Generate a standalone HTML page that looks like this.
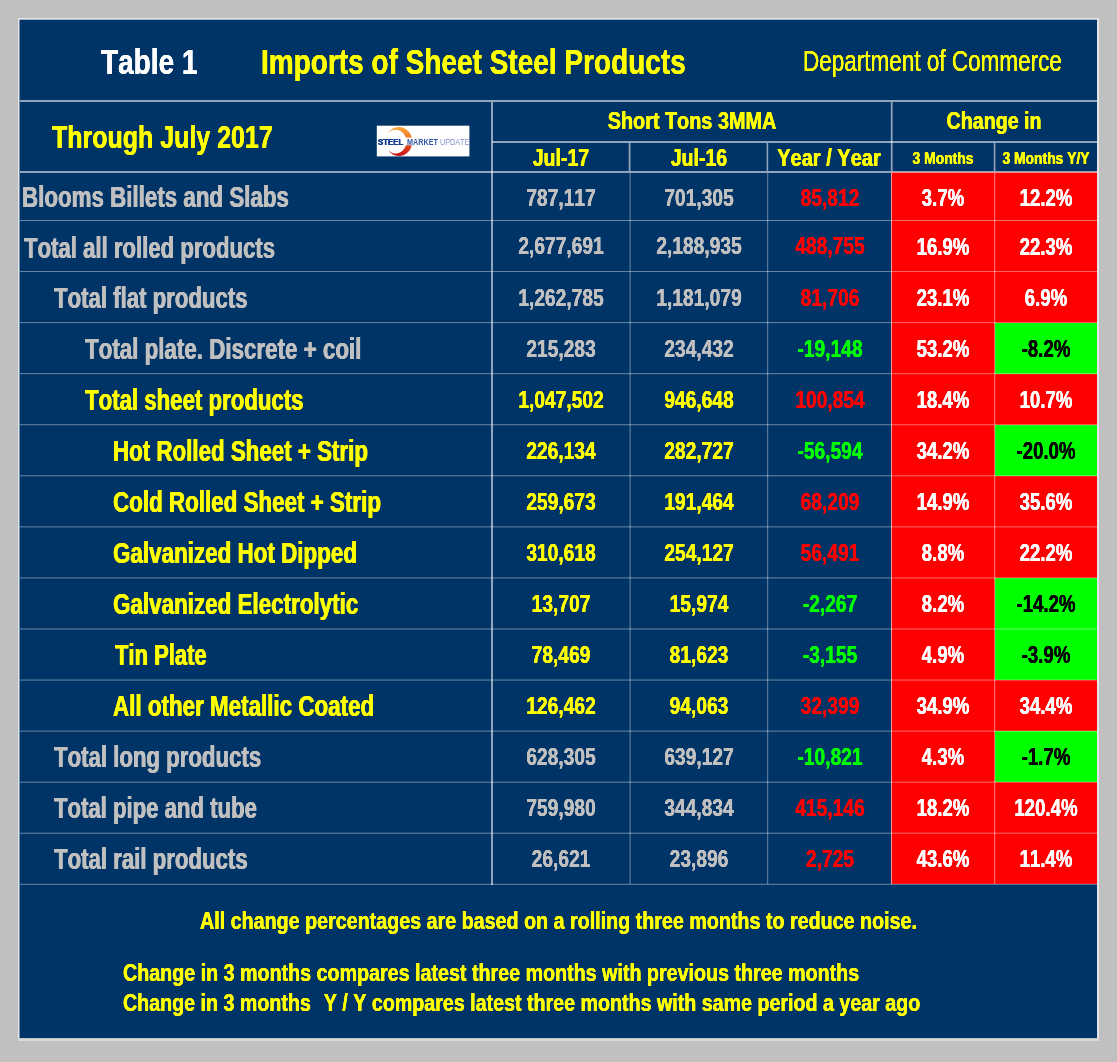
<!DOCTYPE html>
<html lang="en"><head><meta charset="utf-8"><title>Table 1 - Imports of Sheet Steel Products</title>
<style>
html,body{margin:0;padding:0}
body{width:1117px;height:1062px;background:#c0c0c0;position:relative;overflow:hidden;font-family:"Liberation Sans",sans-serif;font-weight:bold}
.bg{position:absolute}
.t{position:absolute;white-space:pre;line-height:1;font-kerning:none;transform:scaleX(0.82);text-shadow:0.45px 0 0 currentColor,-0.45px 0 0 currentColor}
.l{transform-origin:0 0}
.c{transform-origin:50% 0;text-align:center}
svg{position:absolute;left:0;top:0}
</style></head><body>
<svg width="1117" height="1062" viewBox="0 0 1117 1062"><rect x="18" y="18" width="1081" height="1022.6" fill="#e4e5e8"/><rect x="18" y="1038" width="1081" height="2.6" fill="#d9d9d9"/><rect x="19.5" y="19.7" width="1077.5" height="1018.4" fill="#003366"/></svg>
<div class="bg" style="left:891px;top:172px;width:206px;height:712px;background:#ff0000"></div>
<div class="bg" style="left:995px;top:323px;width:102px;height:51px;background:#00ff00"></div>
<div class="bg" style="left:995px;top:425px;width:102px;height:51px;background:#00ff00"></div>
<div class="bg" style="left:995px;top:578px;width:102px;height:51px;background:#00ff00"></div>
<div class="bg" style="left:995px;top:629px;width:102px;height:51px;background:#00ff00"></div>
<div class="bg" style="left:995px;top:731px;width:102px;height:51px;background:#00ff00"></div>
<div class="t l" style="left:100.70px;top:44.27px;font-size:35px;color:#ffffff;transform:scaleX(0.8);text-shadow:0.2px 0 0 currentColor,-0.2px 0 0 currentColor;">Table 1</div>
<div class="t l" style="left:261.30px;top:44.27px;font-size:35px;color:#ffff00;transform:scaleX(0.8);text-shadow:0.2px 0 0 currentColor,-0.2px 0 0 currentColor;">Imports of Sheet Steel Products</div>
<div class="t l" style="left:802.80px;top:46.78px;font-size:29.2px;color:#ffff00;font-weight:normal;transform:scaleX(0.771);text-shadow:0.1px 0 0 currentColor,-0.1px 0 0 currentColor;">Department of Commerce</div>
<div class="t l" style="left:51.70px;top:122.48px;font-size:30.5px;color:#ffff00;transform:scaleX(0.819);text-shadow:0.2px 0 0 currentColor,-0.2px 0 0 currentColor;">Through July 2017</div>
<div class="t c" style="left:391.50px;width:600px;top:110.31px;font-size:23.5px;color:#ffff00;transform:scaleX(0.844);text-shadow:0.3px 0 0 currentColor,-0.3px 0 0 currentColor;">Short Tons 3MMA</div>
<div class="t c" style="left:694.00px;width:600px;top:110.01px;font-size:23.5px;color:#ffff00;transform:scaleX(0.836);text-shadow:0.3px 0 0 currentColor,-0.3px 0 0 currentColor;">Change in</div>
<div class="t c" style="left:260.70px;width:600px;top:146.71px;font-size:23.5px;color:#ffff00;transform:scaleX(0.832);text-shadow:0.3px 0 0 currentColor,-0.3px 0 0 currentColor;">Jul-17</div>
<div class="t c" style="left:398.75px;width:600px;top:146.71px;font-size:23.5px;color:#ffff00;transform:scaleX(0.832);text-shadow:0.3px 0 0 currentColor,-0.3px 0 0 currentColor;">Jul-16</div>
<div class="t c" style="left:528.70px;width:600px;top:146.71px;font-size:23.5px;color:#ffff00;transform:scaleX(0.852);text-shadow:0.3px 0 0 currentColor,-0.3px 0 0 currentColor;">Year / Year</div>
<div class="t c" style="left:643.00px;width:600px;top:149.51px;font-size:17px;color:#ffff00;transform:scaleX(0.816);text-shadow:0.3px 0 0 currentColor,-0.3px 0 0 currentColor;">3 Months</div>
<div class="t c" style="left:746.20px;width:600px;top:149.51px;font-size:17px;color:#ffff00;transform:scaleX(0.816);text-shadow:0.3px 0 0 currentColor,-0.3px 0 0 currentColor;">3 Months Y/Y</div>
<div class="t l" style="left:22.40px;top:182.72px;font-size:28.8px;color:#c0c0c0;transform:scaleX(0.7757);">Blooms Billets and Slabs</div>
<div class="t c" style="left:260.70px;width:600px;top:185.76px;font-size:24.5px;color:#c0c0c0;transform:scaleX(0.784);text-shadow:0.15px 0 0 currentColor,-0.15px 0 0 currentColor;">787,117</div>
<div class="t c" style="left:398.75px;width:600px;top:185.76px;font-size:24.5px;color:#c0c0c0;transform:scaleX(0.784);text-shadow:0.15px 0 0 currentColor,-0.15px 0 0 currentColor;">701,305</div>
<div class="t c" style="left:529.50px;width:600px;top:185.76px;font-size:24.5px;color:#ff0000;transform:scaleX(0.784);text-shadow:0.15px 0 0 currentColor,-0.15px 0 0 currentColor;">85,812</div>
<div class="t c" style="left:643.00px;width:600px;top:187.03px;font-size:23px;color:#ffffff;transform:scaleX(0.811);text-shadow:0.15px 0 0 currentColor,-0.15px 0 0 currentColor;">3.7%</div>
<div class="t c" style="left:746.00px;width:600px;top:187.03px;font-size:23px;color:#ffffff;transform:scaleX(0.811);text-shadow:0.15px 0 0 currentColor,-0.15px 0 0 currentColor;">12.2%</div>
<div class="t l" style="left:24.10px;top:233.55px;font-size:28.8px;color:#c0c0c0;transform:scaleX(0.7692);">Total all rolled products</div>
<div class="t c" style="left:260.70px;width:600px;top:234.46px;font-size:24.5px;color:#c0c0c0;transform:scaleX(0.784);text-shadow:0.15px 0 0 currentColor,-0.15px 0 0 currentColor;">2,677,691</div>
<div class="t c" style="left:398.75px;width:600px;top:234.46px;font-size:24.5px;color:#c0c0c0;transform:scaleX(0.784);text-shadow:0.15px 0 0 currentColor,-0.15px 0 0 currentColor;">2,188,935</div>
<div class="t c" style="left:529.50px;width:600px;top:234.46px;font-size:24.5px;color:#ff0000;transform:scaleX(0.784);text-shadow:0.15px 0 0 currentColor,-0.15px 0 0 currentColor;">488,755</div>
<div class="t c" style="left:643.00px;width:600px;top:235.63px;font-size:23px;color:#ffffff;transform:scaleX(0.811);text-shadow:0.15px 0 0 currentColor,-0.15px 0 0 currentColor;">16.9%</div>
<div class="t c" style="left:746.00px;width:600px;top:235.63px;font-size:23px;color:#ffffff;transform:scaleX(0.811);text-shadow:0.15px 0 0 currentColor,-0.15px 0 0 currentColor;">22.3%</div>
<div class="t l" style="left:54.00px;top:284.39px;font-size:28.8px;color:#c0c0c0;transform:scaleX(0.7707);">Total flat products</div>
<div class="t c" style="left:260.70px;width:600px;top:285.52px;font-size:24.5px;color:#c0c0c0;transform:scaleX(0.784);text-shadow:0.15px 0 0 currentColor,-0.15px 0 0 currentColor;">1,262,785</div>
<div class="t c" style="left:398.75px;width:600px;top:285.52px;font-size:24.5px;color:#c0c0c0;transform:scaleX(0.784);text-shadow:0.15px 0 0 currentColor,-0.15px 0 0 currentColor;">1,181,079</div>
<div class="t c" style="left:529.50px;width:600px;top:285.52px;font-size:24.5px;color:#ff0000;transform:scaleX(0.784);text-shadow:0.15px 0 0 currentColor,-0.15px 0 0 currentColor;">81,706</div>
<div class="t c" style="left:643.00px;width:600px;top:286.69px;font-size:23px;color:#ffffff;transform:scaleX(0.811);text-shadow:0.15px 0 0 currentColor,-0.15px 0 0 currentColor;">23.1%</div>
<div class="t c" style="left:746.00px;width:600px;top:286.69px;font-size:23px;color:#ffffff;transform:scaleX(0.811);text-shadow:0.15px 0 0 currentColor,-0.15px 0 0 currentColor;">6.9%</div>
<div class="t l" style="left:85.20px;top:335.22px;font-size:28.8px;color:#c0c0c0;transform:scaleX(0.7762);">Total plate. Discrete + coil</div>
<div class="t c" style="left:260.70px;width:600px;top:336.58px;font-size:24.5px;color:#c0c0c0;transform:scaleX(0.784);text-shadow:0.15px 0 0 currentColor,-0.15px 0 0 currentColor;">215,283</div>
<div class="t c" style="left:398.75px;width:600px;top:336.58px;font-size:24.5px;color:#c0c0c0;transform:scaleX(0.784);text-shadow:0.15px 0 0 currentColor,-0.15px 0 0 currentColor;">234,432</div>
<div class="t c" style="left:529.50px;width:600px;top:336.58px;font-size:24.5px;color:#00ff00;transform:scaleX(0.784);text-shadow:0.15px 0 0 currentColor,-0.15px 0 0 currentColor;">-19,148</div>
<div class="t c" style="left:643.00px;width:600px;top:337.75px;font-size:23px;color:#ffffff;transform:scaleX(0.811);text-shadow:0.15px 0 0 currentColor,-0.15px 0 0 currentColor;">53.2%</div>
<div class="t c" style="left:746.00px;width:600px;top:337.75px;font-size:23px;color:#000000;transform:scaleX(0.811);text-shadow:0.15px 0 0 currentColor,-0.15px 0 0 currentColor;">-8.2%</div>
<div class="t l" style="left:85.20px;top:386.05px;font-size:28.8px;color:#ffff00;transform:scaleX(0.7718);">Total sheet products</div>
<div class="t c" style="left:260.70px;width:600px;top:387.64px;font-size:24.5px;color:#ffff00;transform:scaleX(0.784);text-shadow:0.15px 0 0 currentColor,-0.15px 0 0 currentColor;">1,047,502</div>
<div class="t c" style="left:398.75px;width:600px;top:387.64px;font-size:24.5px;color:#ffff00;transform:scaleX(0.784);text-shadow:0.15px 0 0 currentColor,-0.15px 0 0 currentColor;">946,648</div>
<div class="t c" style="left:529.50px;width:600px;top:387.64px;font-size:24.5px;color:#ff0000;transform:scaleX(0.784);text-shadow:0.15px 0 0 currentColor,-0.15px 0 0 currentColor;">100,854</div>
<div class="t c" style="left:643.00px;width:600px;top:388.81px;font-size:23px;color:#ffffff;transform:scaleX(0.811);text-shadow:0.15px 0 0 currentColor,-0.15px 0 0 currentColor;">18.4%</div>
<div class="t c" style="left:746.00px;width:600px;top:388.81px;font-size:23px;color:#ffffff;transform:scaleX(0.811);text-shadow:0.15px 0 0 currentColor,-0.15px 0 0 currentColor;">10.7%</div>
<div class="t l" style="left:113.40px;top:436.89px;font-size:28.8px;color:#ffff00;transform:scaleX(0.7753);">Hot Rolled Sheet + Strip</div>
<div class="t c" style="left:260.70px;width:600px;top:438.70px;font-size:24.5px;color:#ffff00;transform:scaleX(0.784);text-shadow:0.15px 0 0 currentColor,-0.15px 0 0 currentColor;">226,134</div>
<div class="t c" style="left:398.75px;width:600px;top:438.70px;font-size:24.5px;color:#ffff00;transform:scaleX(0.784);text-shadow:0.15px 0 0 currentColor,-0.15px 0 0 currentColor;">282,727</div>
<div class="t c" style="left:529.50px;width:600px;top:438.70px;font-size:24.5px;color:#00ff00;transform:scaleX(0.784);text-shadow:0.15px 0 0 currentColor,-0.15px 0 0 currentColor;">-56,594</div>
<div class="t c" style="left:643.00px;width:600px;top:439.87px;font-size:23px;color:#ffffff;transform:scaleX(0.811);text-shadow:0.15px 0 0 currentColor,-0.15px 0 0 currentColor;">34.2%</div>
<div class="t c" style="left:746.00px;width:600px;top:439.87px;font-size:23px;color:#000000;transform:scaleX(0.811);text-shadow:0.15px 0 0 currentColor,-0.15px 0 0 currentColor;">-20.0%</div>
<div class="t l" style="left:113.20px;top:487.72px;font-size:28.8px;color:#ffff00;transform:scaleX(0.7771);">Cold Rolled Sheet + Strip</div>
<div class="t c" style="left:260.70px;width:600px;top:489.76px;font-size:24.5px;color:#ffff00;transform:scaleX(0.784);text-shadow:0.15px 0 0 currentColor,-0.15px 0 0 currentColor;">259,673</div>
<div class="t c" style="left:398.75px;width:600px;top:489.76px;font-size:24.5px;color:#ffff00;transform:scaleX(0.784);text-shadow:0.15px 0 0 currentColor,-0.15px 0 0 currentColor;">191,464</div>
<div class="t c" style="left:529.50px;width:600px;top:489.76px;font-size:24.5px;color:#ff0000;transform:scaleX(0.784);text-shadow:0.15px 0 0 currentColor,-0.15px 0 0 currentColor;">68,209</div>
<div class="t c" style="left:643.00px;width:600px;top:490.93px;font-size:23px;color:#ffffff;transform:scaleX(0.811);text-shadow:0.15px 0 0 currentColor,-0.15px 0 0 currentColor;">14.9%</div>
<div class="t c" style="left:746.00px;width:600px;top:490.93px;font-size:23px;color:#ffffff;transform:scaleX(0.811);text-shadow:0.15px 0 0 currentColor,-0.15px 0 0 currentColor;">35.6%</div>
<div class="t l" style="left:113.20px;top:538.72px;font-size:28.8px;color:#ffff00;transform:scaleX(0.778);">Galvanized Hot Dipped</div>
<div class="t c" style="left:260.70px;width:600px;top:540.82px;font-size:24.5px;color:#ffff00;transform:scaleX(0.784);text-shadow:0.15px 0 0 currentColor,-0.15px 0 0 currentColor;">310,618</div>
<div class="t c" style="left:398.75px;width:600px;top:540.82px;font-size:24.5px;color:#ffff00;transform:scaleX(0.784);text-shadow:0.15px 0 0 currentColor,-0.15px 0 0 currentColor;">254,127</div>
<div class="t c" style="left:529.50px;width:600px;top:540.82px;font-size:24.5px;color:#ff0000;transform:scaleX(0.784);text-shadow:0.15px 0 0 currentColor,-0.15px 0 0 currentColor;">56,491</div>
<div class="t c" style="left:643.00px;width:600px;top:541.99px;font-size:23px;color:#ffffff;transform:scaleX(0.811);text-shadow:0.15px 0 0 currentColor,-0.15px 0 0 currentColor;">8.8%</div>
<div class="t c" style="left:746.00px;width:600px;top:541.99px;font-size:23px;color:#ffffff;transform:scaleX(0.811);text-shadow:0.15px 0 0 currentColor,-0.15px 0 0 currentColor;">22.2%</div>
<div class="t l" style="left:113.20px;top:589.72px;font-size:28.8px;color:#ffff00;transform:scaleX(0.778);">Galvanized Electrolytic</div>
<div class="t c" style="left:260.70px;width:600px;top:591.88px;font-size:24.5px;color:#ffff00;transform:scaleX(0.784);text-shadow:0.15px 0 0 currentColor,-0.15px 0 0 currentColor;">13,707</div>
<div class="t c" style="left:398.75px;width:600px;top:591.88px;font-size:24.5px;color:#ffff00;transform:scaleX(0.784);text-shadow:0.15px 0 0 currentColor,-0.15px 0 0 currentColor;">15,974</div>
<div class="t c" style="left:529.50px;width:600px;top:591.88px;font-size:24.5px;color:#00ff00;transform:scaleX(0.784);text-shadow:0.15px 0 0 currentColor,-0.15px 0 0 currentColor;">-2,267</div>
<div class="t c" style="left:643.00px;width:600px;top:593.05px;font-size:23px;color:#ffffff;transform:scaleX(0.811);text-shadow:0.15px 0 0 currentColor,-0.15px 0 0 currentColor;">8.2%</div>
<div class="t c" style="left:746.00px;width:600px;top:593.05px;font-size:23px;color:#000000;transform:scaleX(0.811);text-shadow:0.15px 0 0 currentColor,-0.15px 0 0 currentColor;">-14.2%</div>
<div class="t l" style="left:115.30px;top:640.72px;font-size:28.8px;color:#ffff00;transform:scaleX(0.764);">Tin Plate</div>
<div class="t c" style="left:260.70px;width:600px;top:642.94px;font-size:24.5px;color:#ffff00;transform:scaleX(0.784);text-shadow:0.15px 0 0 currentColor,-0.15px 0 0 currentColor;">78,469</div>
<div class="t c" style="left:398.75px;width:600px;top:642.94px;font-size:24.5px;color:#ffff00;transform:scaleX(0.784);text-shadow:0.15px 0 0 currentColor,-0.15px 0 0 currentColor;">81,623</div>
<div class="t c" style="left:529.50px;width:600px;top:642.94px;font-size:24.5px;color:#00ff00;transform:scaleX(0.784);text-shadow:0.15px 0 0 currentColor,-0.15px 0 0 currentColor;">-3,155</div>
<div class="t c" style="left:643.00px;width:600px;top:644.11px;font-size:23px;color:#ffffff;transform:scaleX(0.811);text-shadow:0.15px 0 0 currentColor,-0.15px 0 0 currentColor;">4.9%</div>
<div class="t c" style="left:746.00px;width:600px;top:644.11px;font-size:23px;color:#000000;transform:scaleX(0.811);text-shadow:0.15px 0 0 currentColor,-0.15px 0 0 currentColor;">-3.9%</div>
<div class="t l" style="left:113.10px;top:691.72px;font-size:28.8px;color:#ffff00;transform:scaleX(0.7772);">All other Metallic Coated</div>
<div class="t c" style="left:260.70px;width:600px;top:694.00px;font-size:24.5px;color:#ffff00;transform:scaleX(0.784);text-shadow:0.15px 0 0 currentColor,-0.15px 0 0 currentColor;">126,462</div>
<div class="t c" style="left:398.75px;width:600px;top:694.00px;font-size:24.5px;color:#ffff00;transform:scaleX(0.784);text-shadow:0.15px 0 0 currentColor,-0.15px 0 0 currentColor;">94,063</div>
<div class="t c" style="left:529.50px;width:600px;top:694.00px;font-size:24.5px;color:#ff0000;transform:scaleX(0.784);text-shadow:0.15px 0 0 currentColor,-0.15px 0 0 currentColor;">32,399</div>
<div class="t c" style="left:643.00px;width:600px;top:695.17px;font-size:23px;color:#ffffff;transform:scaleX(0.811);text-shadow:0.15px 0 0 currentColor,-0.15px 0 0 currentColor;">34.9%</div>
<div class="t c" style="left:746.00px;width:600px;top:695.17px;font-size:23px;color:#ffffff;transform:scaleX(0.811);text-shadow:0.15px 0 0 currentColor,-0.15px 0 0 currentColor;">34.4%</div>
<div class="t l" style="left:54.00px;top:742.72px;font-size:28.8px;color:#c0c0c0;transform:scaleX(0.7708);">Total long products</div>
<div class="t c" style="left:260.70px;width:600px;top:745.06px;font-size:24.5px;color:#c0c0c0;transform:scaleX(0.784);text-shadow:0.15px 0 0 currentColor,-0.15px 0 0 currentColor;">628,305</div>
<div class="t c" style="left:398.75px;width:600px;top:745.06px;font-size:24.5px;color:#c0c0c0;transform:scaleX(0.784);text-shadow:0.15px 0 0 currentColor,-0.15px 0 0 currentColor;">639,127</div>
<div class="t c" style="left:529.50px;width:600px;top:745.06px;font-size:24.5px;color:#00ff00;transform:scaleX(0.784);text-shadow:0.15px 0 0 currentColor,-0.15px 0 0 currentColor;">-10,821</div>
<div class="t c" style="left:643.00px;width:600px;top:746.23px;font-size:23px;color:#ffffff;transform:scaleX(0.811);text-shadow:0.15px 0 0 currentColor,-0.15px 0 0 currentColor;">4.3%</div>
<div class="t c" style="left:746.00px;width:600px;top:746.23px;font-size:23px;color:#000000;transform:scaleX(0.811);text-shadow:0.15px 0 0 currentColor,-0.15px 0 0 currentColor;">-1.7%</div>
<div class="t l" style="left:54.00px;top:793.72px;font-size:28.8px;color:#c0c0c0;transform:scaleX(0.7685);">Total pipe and tube</div>
<div class="t c" style="left:260.70px;width:600px;top:796.12px;font-size:24.5px;color:#c0c0c0;transform:scaleX(0.784);text-shadow:0.15px 0 0 currentColor,-0.15px 0 0 currentColor;">759,980</div>
<div class="t c" style="left:398.75px;width:600px;top:796.12px;font-size:24.5px;color:#c0c0c0;transform:scaleX(0.784);text-shadow:0.15px 0 0 currentColor,-0.15px 0 0 currentColor;">344,834</div>
<div class="t c" style="left:529.50px;width:600px;top:796.12px;font-size:24.5px;color:#ff0000;transform:scaleX(0.784);text-shadow:0.15px 0 0 currentColor,-0.15px 0 0 currentColor;">415,146</div>
<div class="t c" style="left:643.00px;width:600px;top:797.29px;font-size:23px;color:#ffffff;transform:scaleX(0.811);text-shadow:0.15px 0 0 currentColor,-0.15px 0 0 currentColor;">18.2%</div>
<div class="t c" style="left:746.00px;width:600px;top:797.29px;font-size:23px;color:#ffffff;transform:scaleX(0.811);text-shadow:0.15px 0 0 currentColor,-0.15px 0 0 currentColor;">120.4%</div>
<div class="t l" style="left:54.00px;top:844.72px;font-size:28.8px;color:#c0c0c0;transform:scaleX(0.771);">Total rail products</div>
<div class="t c" style="left:260.70px;width:600px;top:847.18px;font-size:24.5px;color:#c0c0c0;transform:scaleX(0.784);text-shadow:0.15px 0 0 currentColor,-0.15px 0 0 currentColor;">26,621</div>
<div class="t c" style="left:398.75px;width:600px;top:847.18px;font-size:24.5px;color:#c0c0c0;transform:scaleX(0.784);text-shadow:0.15px 0 0 currentColor,-0.15px 0 0 currentColor;">23,896</div>
<div class="t c" style="left:529.50px;width:600px;top:847.18px;font-size:24.5px;color:#ff0000;transform:scaleX(0.784);text-shadow:0.15px 0 0 currentColor,-0.15px 0 0 currentColor;">2,725</div>
<div class="t c" style="left:643.00px;width:600px;top:848.35px;font-size:23px;color:#ffffff;transform:scaleX(0.811);text-shadow:0.15px 0 0 currentColor,-0.15px 0 0 currentColor;">43.6%</div>
<div class="t c" style="left:746.00px;width:600px;top:848.35px;font-size:23px;color:#ffffff;transform:scaleX(0.811);text-shadow:0.15px 0 0 currentColor,-0.15px 0 0 currentColor;">11.4%</div>
<div class="t l" style="left:200.30px;top:909.88px;font-size:23.3px;color:#ffff00;transform:scaleX(0.8455);text-shadow:0.2px 0 0 currentColor,-0.2px 0 0 currentColor;">All change percentages are based on a rolling three months to reduce noise.</div>
<div class="t l" style="left:123.30px;top:962.18px;font-size:23.3px;color:#ffff00;transform:scaleX(0.845);text-shadow:0.2px 0 0 currentColor,-0.2px 0 0 currentColor;">Change in 3 months compares latest three months with previous three months</div>
<div class="t l" style="left:123.30px;top:992.18px;font-size:23.3px;color:#ffff00;transform:scaleX(0.8437);text-shadow:0.2px 0 0 currentColor,-0.2px 0 0 currentColor;">Change in 3 months<span style="letter-spacing:1.2px">  </span>Y / Y compares latest three months with same period a year ago</div>
<svg width="1117" height="1062" viewBox="0 0 1117 1062"><rect x="376.8" y="125.7" width="92.6" height="30.7" fill="#fff"/><defs><linearGradient id="lg" x1="0" y1="0" x2="0" y2="1"><stop offset="0" stop-color="#fbab3c"/><stop offset="0.45" stop-color="#f26a26"/><stop offset="1" stop-color="#c20f1a"/></linearGradient><mask id="mk"><rect x="370" y="120" width="60" height="45" fill="#fff"/><ellipse cx="395.6" cy="141.55" rx="10.76" ry="11.85" fill="#000"/><rect x="370" y="137.6" width="60" height="7.6" fill="#000"/><rect x="370" y="120" width="18.8" height="45" fill="#000"/></mask></defs><ellipse cx="398.9" cy="141.55" rx="13.4" ry="14.55" fill="url(#lg)" mask="url(#mk)"/></svg>
<div class="t l" style="left:378.00px;top:137.63px;font-size:9.3px;font-weight:bold;color:#173d8f;transform:scaleX(0.8408);text-shadow:0.3px 0 0 #173d8f,-0.3px 0 0 #173d8f">STEEL</div>
<div class="t l" style="left:406.50px;top:137.63px;font-size:9.3px;font-weight:bold;color:#3355a6;transform:scaleX(0.7768);text-shadow:none">MARKET</div>
<div class="t l" style="left:440.20px;top:137.63px;font-size:9.3px;font-weight:normal;color:#7f93c8;transform:scaleX(0.7750);text-shadow:none">UPDATE</div>
<svg width="1117" height="1062" viewBox="0 0 1117 1062">
<rect x="20.00" y="100.00" width="1077.00" height="2.00" fill="#fff" fill-opacity="0.56"/>
<rect x="492.00" y="141.00" width="605.00" height="2.00" fill="#fff" fill-opacity="0.56"/>
<rect x="20.00" y="171.00" width="1077.00" height="2.00" fill="#fff" fill-opacity="0.56"/>
<rect x="20.00" y="220.00" width="1077.00" height="1.00" fill="#fff" fill-opacity="0.42"/>
<rect x="20.00" y="271.06" width="1077.00" height="1.00" fill="#fff" fill-opacity="0.42"/>
<rect x="20.00" y="322.12" width="1077.00" height="1.00" fill="#fff" fill-opacity="0.42"/>
<rect x="20.00" y="373.18" width="1077.00" height="1.00" fill="#fff" fill-opacity="0.42"/>
<rect x="20.00" y="424.24" width="1077.00" height="1.00" fill="#fff" fill-opacity="0.42"/>
<rect x="20.00" y="475.30" width="1077.00" height="1.00" fill="#fff" fill-opacity="0.42"/>
<rect x="20.00" y="526.36" width="1077.00" height="1.00" fill="#fff" fill-opacity="0.42"/>
<rect x="20.00" y="577.42" width="1077.00" height="1.00" fill="#fff" fill-opacity="0.42"/>
<rect x="20.00" y="628.48" width="1077.00" height="1.00" fill="#fff" fill-opacity="0.42"/>
<rect x="20.00" y="679.54" width="1077.00" height="1.00" fill="#fff" fill-opacity="0.42"/>
<rect x="20.00" y="730.60" width="1077.00" height="1.00" fill="#fff" fill-opacity="0.42"/>
<rect x="20.00" y="781.66" width="1077.00" height="1.00" fill="#fff" fill-opacity="0.42"/>
<rect x="20.00" y="832.72" width="1077.00" height="1.00" fill="#fff" fill-opacity="0.42"/>
<rect x="20.00" y="883.78" width="1077.00" height="1.00" fill="#fff" fill-opacity="0.42"/>
<rect x="491.00" y="102.00" width="2.00" height="783.00" fill="#fff" fill-opacity="0.56"/>
<rect x="628.70" y="143.00" width="1.80" height="28.00" fill="#fff" fill-opacity="0.56"/>
<rect x="766.60" y="143.00" width="1.60" height="28.00" fill="#fff" fill-opacity="0.56"/>
<rect x="890.80" y="102.00" width="1.80" height="69.00" fill="#fff" fill-opacity="0.56"/>
<rect x="993.80" y="143.00" width="1.60" height="28.00" fill="#fff" fill-opacity="0.56"/>
<rect x="629.60" y="173.00" width="1.00" height="711.00" fill="#fff" fill-opacity="0.42"/>
<rect x="767.20" y="173.00" width="1.00" height="711.00" fill="#fff" fill-opacity="0.42"/>
<rect x="891.00" y="173.00" width="1.00" height="711.00" fill="#fff" fill-opacity="0.6"/>
<rect x="994.20" y="173.00" width="1.00" height="711.00" fill="#fff" fill-opacity="0.5"/>
</svg>
</body></html>
